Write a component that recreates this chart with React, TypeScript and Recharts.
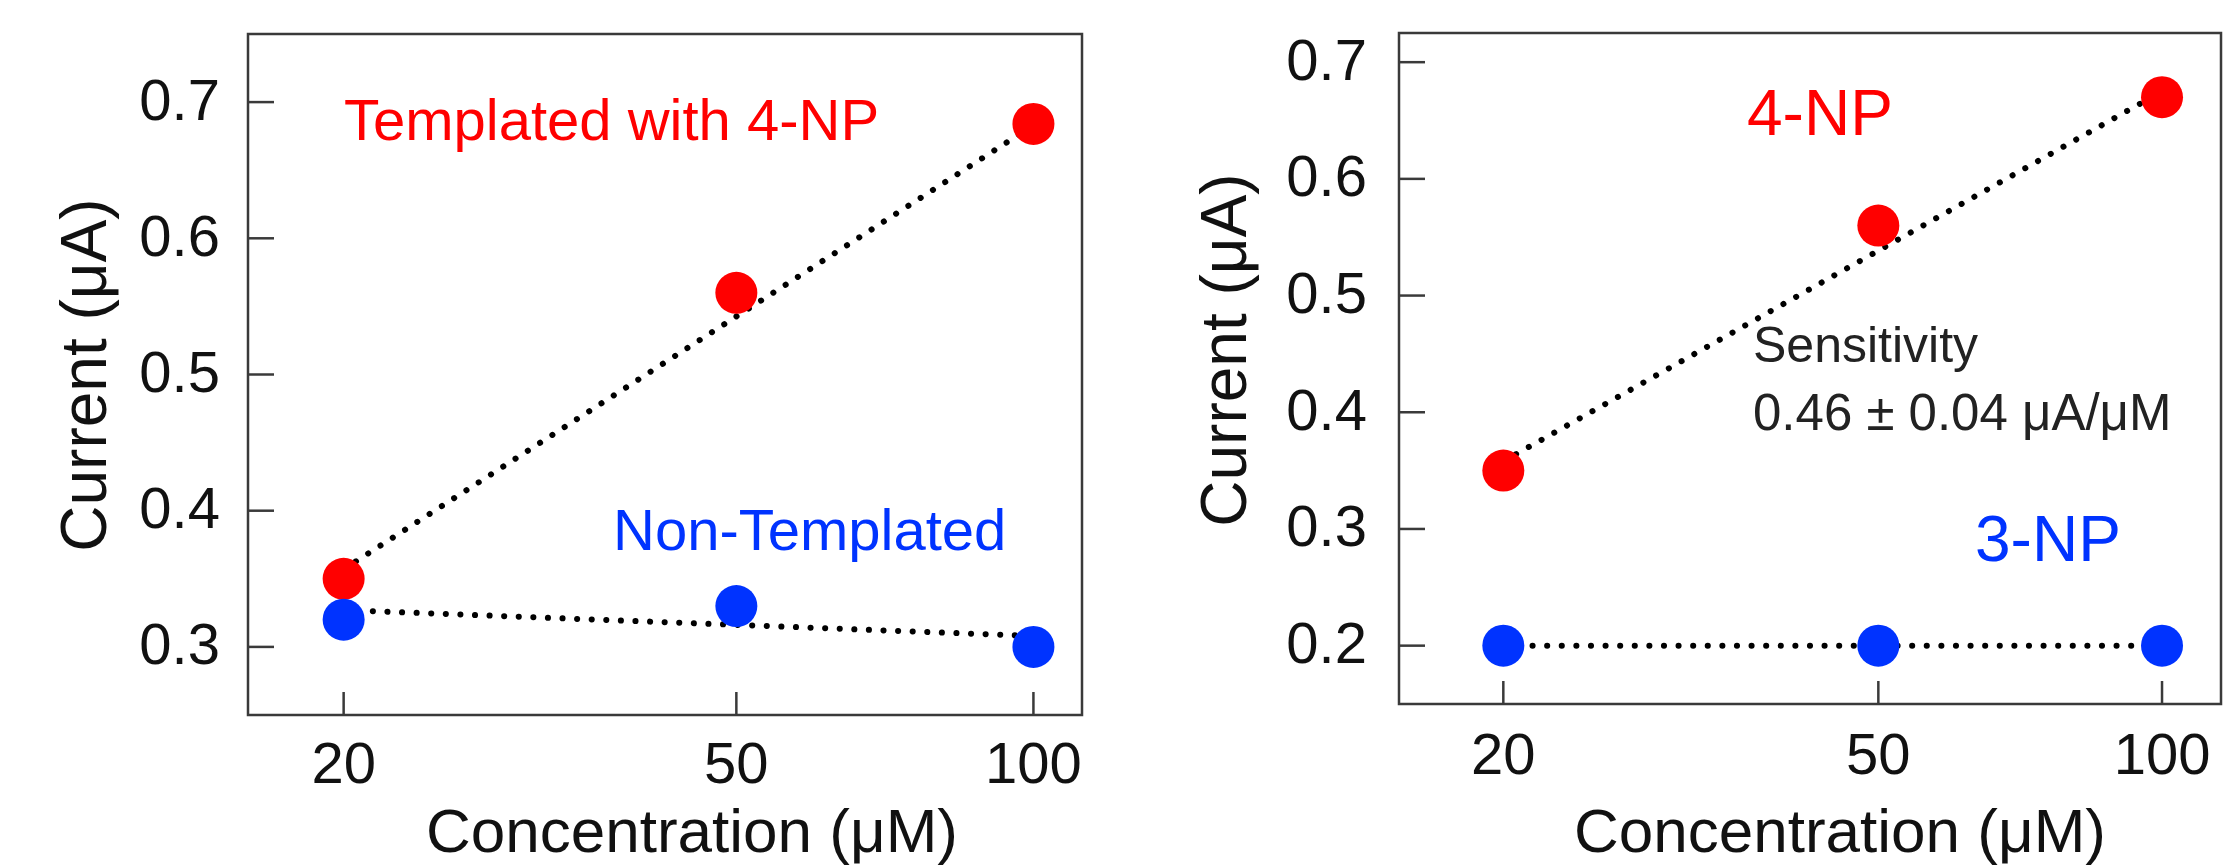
import { ComposedChart, Scatter, Line, XAxis, YAxis, ReferenceArea, Customized } from 'recharts';

// concentration (uM), shared by both panels
const concentrations = [20, 50, 100];
const fitEnds = [20, 100];
const xTicks = [20, 50, 100];

// left panel: templated vs non-templated
const templated = [0.35, 0.56, 0.684];
const nonTemplated = [0.32, 0.33, 0.3];
const templatedFit = [0.357, 0.683];
const nonTemplatedFit = [0.327, 0.308];
const leftYTicks = [0.3, 0.4, 0.5, 0.6, 0.7];

// right panel: 4-NP vs 3-NP
const np4 = [0.35, 0.56, 0.67];
const np3 = [0.2, 0.2, 0.2];
const np4Fit = [0.358, 0.675];
const np3Fit = [0.2, 0.2];
const rightYTicks = [0.2, 0.3, 0.4, 0.5, 0.6, 0.7];

const FONT = '"Liberation Sans", Arial, Helvetica, sans-serif';
const RED = '#FF0000';
const BLUE = '#0033FF';
const AXIS = '#3a3a3a';

const toPoints = (xs: number[], ys: number[]) => xs.map((x, i) => ({ x, y: ys[i] }));

function XTick(props: any) {
  const { x, y, payload, offset } = props;
  return (
    <g>
      <line x1={x} y1={y} x2={x} y2={y - 23} stroke={AXIS} strokeWidth={2.5} />
      <text x={x} y={y + offset} dy="0.35em" textAnchor="middle" fontSize={58} fontFamily={FONT} fill="#111">
        {payload.value}
      </text>
    </g>
  );
}

function YTick(props: any) {
  const { x, y, payload, gap } = props;
  return (
    <g>
      <line x1={x} y1={y} x2={x + 26} y2={y} stroke={AXIS} strokeWidth={2.5} />
      <text x={x - gap} y={y} dy="0.3em" textAnchor="end" fontSize={58} fontFamily={FONT} fill="#111">
        {Number(payload.value).toFixed(1)}
      </text>
    </g>
  );
}

const Dot = (color: string) => (p: any) => <circle cx={p.cx} cy={p.cy} r={21} fill={color} />;

// dotted fit line: round caps on near-zero dashes give round dots
const dotted = {
  stroke: '#000',
  strokeWidth: 6,
  strokeDasharray: '0.1 14.5',
  strokeLinecap: 'round' as const,
};

function Panel(props: any) {
  const {
    width, height, plotTop, plotRight, yAxisWidth, xAxisHeight, xDomain, yDomain, yTicks,
    redPts, bluePts, redFit, blueFit, tickOffset, tickGap, children,
  } = props;
  return (
    <ComposedChart width={width} height={height} margin={{ top: plotTop, right: plotRight, bottom: 0, left: 0 }}>
      <XAxis
        dataKey="x"
        type="number"
        scale="log"
        domain={xDomain}
        allowDataOverflow
        ticks={xTicks}
        interval={0}
        height={xAxisHeight}
        tickSize={0}
        tickMargin={0}
        tickLine={false}
        axisLine={false}
        tick={(p: any) => <XTick {...p} offset={tickOffset} />}
      />
      <YAxis
        dataKey="y"
        type="number"
        domain={yDomain}
        allowDataOverflow
        ticks={yTicks}
        interval={0}
        width={yAxisWidth}
        tickSize={0}
        tickMargin={0}
        tickLine={false}
        axisLine={false}
        tick={(p: any) => <YTick {...p} gap={tickGap} />}
      />
      <ReferenceArea
        x1={xDomain[0]}
        x2={xDomain[1]}
        y1={yDomain[0]}
        y2={yDomain[1]}
        fill="none"
        fillOpacity={0}
        stroke={AXIS}
        strokeWidth={2.5}
      />
      <Scatter data={redPts} shape={Dot(RED)} isAnimationActive={false} />
      <Scatter data={bluePts} shape={Dot(BLUE)} isAnimationActive={false} />
      <Line data={redFit} dataKey="y" type="linear" dot={false} activeDot={false} isAnimationActive={false} {...dotted} />
      <Line data={blueFit} dataKey="y" type="linear" dot={false} activeDot={false} isAnimationActive={false} {...dotted} />
      <Customized component={() => <g fontFamily={FONT}>{children}</g>} />
    </ComposedChart>
  );
}

export default function App() {
  return (
    <div style={{ position: 'absolute', left: 0, top: 0, width: 2223, height: 865, background: '#fff', overflow: 'hidden' }}>
      <div style={{ position: 'absolute', left: 0, top: 0 }}>
        <Panel
          width={1111}
          height={865}
          plotTop={34}
          plotRight={29}
          yAxisWidth={248}
          xAxisHeight={150}
          xDomain={[16, 112]}
          yDomain={[0.25, 0.75]}
          yTicks={leftYTicks}
          redPts={toPoints(concentrations, templated)}
          bluePts={toPoints(concentrations, nonTemplated)}
          redFit={toPoints(fitEnds, templatedFit)}
          blueFit={toPoints(fitEnds, nonTemplatedFit)}
          tickOffset={48}
          tickGap={28}
        >
          <text x={344} y={140} fontSize={58} fill={RED}>Templated with 4-NP</text>
          <text x={613} y={550} fontSize={58} fill={BLUE}>Non-Templated</text>
          <text x={106} y={375} fontSize={64} fill="#111" textAnchor="middle" transform="rotate(-90 106 375)">
            Current (μA)
          </text>
          <text x={692} y={852} fontSize={62} fill="#111" textAnchor="middle">Concentration (μM)</text>
        </Panel>
      </div>
      <div style={{ position: 'absolute', left: 1111, top: 0 }}>
        <Panel
          width={1112}
          height={865}
          plotTop={33}
          plotRight={2}
          yAxisWidth={288}
          xAxisHeight={161}
          xDomain={[15.5, 115.5]}
          yDomain={[0.15, 0.725]}
          yTicks={rightYTicks}
          redPts={toPoints(concentrations, np4)}
          bluePts={toPoints(concentrations, np3)}
          redFit={toPoints(fitEnds, np4Fit)}
          blueFit={toPoints(fitEnds, np3Fit)}
          tickOffset={50}
          tickGap={32}
        >
          <text x={636} y={135} fontSize={64} fill={RED}>4-NP</text>
          <text x={642} y={362} fontSize={50} fill="#222">Sensitivity</text>
          <text x={642} y={430} fontSize={51} fill="#222">0.46 ± 0.04 μA/μM</text>
          <text x={864} y={561} fontSize={64} fill={BLUE}>3-NP</text>
          <text x={135} y={350} fontSize={64} fill="#111" textAnchor="middle" transform="rotate(-90 135 350)">
            Current (μA)
          </text>
          <text x={729} y={852} fontSize={62} fill="#111" textAnchor="middle">Concentration (μM)</text>
        </Panel>
      </div>
    </div>
  );
}
